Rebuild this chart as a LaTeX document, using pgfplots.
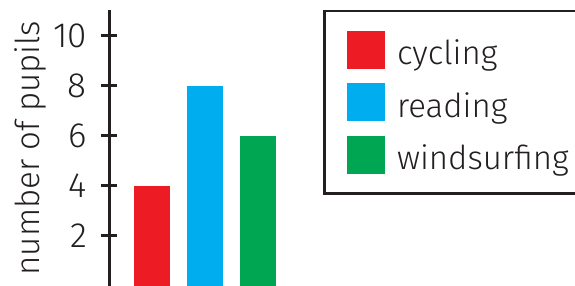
\documentclass[border=0pt]{standalone}
\usepackage{pgfplots}
\pgfplotsset{compat=1.18}
\usepackage{fontspec}
\setmainfont{Fira Sans Light}
\definecolor{cred}{HTML}{ED1C24}
\definecolor{cblue}{HTML}{00AEEF}
\definecolor{cgreen}{HTML}{00A651}
\definecolor{axc}{HTML}{231F20}
\newcommand{\bigfont}{\fontsize{33}{40}\selectfont}
\newcommand{\tickfont}{\fontsize{35}{40}\selectfont}
\begin{document}
\begin{tikzpicture}
\path[use as bounding box] (0,0) rectangle (575pt,286pt);
\begin{axis}[
  at={(109pt,0pt)}, anchor=south west,
  scale only axis, width=175.5pt, height=276pt,
  xmin=0.19, xmax=3.5, ymin=0, ymax=11.04,
  axis x line=none, axis y line*=left,
  ytick={2,4,6,8,10},
  tick align=center, major tick length=16pt,
  axis line style={line width=3pt, color=axc},
  major tick style={line width=3pt, color=axc},
  /pgf/number format/assume math mode=true,
  yticklabel style={font=\tickfont, text=axc, inner sep=0pt, xshift=-14pt},
  ylabel={number of pupils},
  ylabel style={font=\bigfont, text=axc, at={(axis description cs:-0.45,0.5)}, anchor=center},
  clip=false,
  legend style={at={(rel axis cs:1.2194,1)}, anchor=north west,
    draw=axc, line width=2.5pt, font=\bigfont, text=axc,
    inner xsep=22.75pt, inner ysep=12.5pt, row sep=0pt,
    nodes={inner sep=0pt, text height=41pt, text depth=11.5pt},
    /tikz/every odd column/.append style={column sep=12pt}},
  legend cell align=left,
]
\addplot[ybar, bar width=36pt, bar shift=0pt, fill=cred, draw=none,
  legend image code/.code={\fill[cred] (0pt,-19pt) rectangle (38pt,19pt);}]
  coordinates {(1,4)};
\addplot[ybar, bar width=36pt, bar shift=0pt, fill=cblue, draw=none,
  legend image code/.code={\fill[cblue] (0pt,-19pt) rectangle (38pt,19pt);}]
  coordinates {(2,8)};
\addplot[ybar, bar width=36pt, bar shift=0pt, fill=cgreen, draw=none,
  legend image code/.code={\fill[cgreen] (0pt,-19pt) rectangle (38pt,19pt);}]
  coordinates {(3,6)};
\legend{cycling, reading, windsurfing}
\end{axis}
\end{tikzpicture}
\end{document}
